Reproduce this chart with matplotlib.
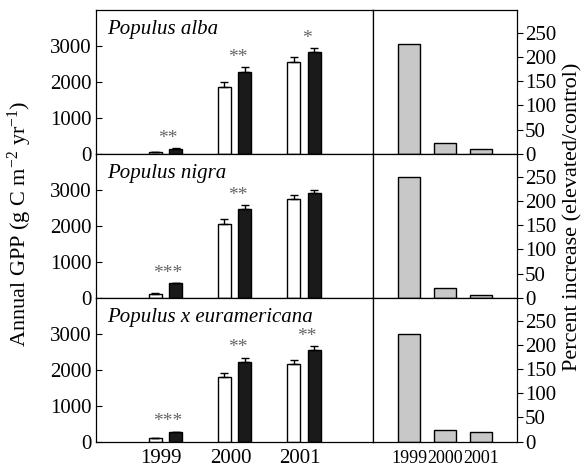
import numpy as np
import matplotlib
matplotlib.use("Agg")
import matplotlib.pyplot as plt

plt.rcParams['font.family'] = ['Liberation Serif', 'DejaVu Serif']
plt.rcParams['mathtext.fontset'] = 'custom'
plt.rcParams['mathtext.rm'] = 'Liberation Serif'
plt.rcParams['mathtext.it'] = 'Liberation Serif:italic'

species = ['Populus alba', 'Populus nigra', 'Populus x euramericana']
years = ['1999', '2000', '2001']

control_alba = [45, 1870, 2565]
elevated_alba = [140, 2290, 2825]
control_err_alba = [15, 120, 120]
elevated_err_alba = [20, 120, 110]
sig_alba = ['**', '**', '*']
pct_alba = [226, 23, 10]

control_nigra = [110, 2050, 2750]
elevated_nigra = [400, 2455, 2900]
control_err_nigra = [20, 130, 110]
elevated_err_nigra = [15, 120, 100]
sig_nigra = ['***', '**', '']
pct_nigra = [249, 20, 6]

control_eur = [90, 1790, 2160]
elevated_eur = [260, 2215, 2545]
control_err_eur = [20, 130, 100]
elevated_err_eur = [20, 120, 110]
sig_eur = ['***', '**', '**']
pct_eur = [223, 24, 19]

rows = [
    (control_alba, elevated_alba, control_err_alba, elevated_err_alba, sig_alba, pct_alba),
    (control_nigra, elevated_nigra, control_err_nigra, elevated_err_nigra, sig_nigra, pct_nigra),
    (control_eur, elevated_eur, control_err_eur, elevated_err_eur, sig_eur, pct_eur),
]

FS = 15
fig = plt.figure(figsize=(5.88, 4.67), dpi=100)
gs = fig.add_gridspec(3, 2, left=0.1633, right=0.8787, top=0.9786, bottom=0.0542,
                      width_ratios=[277.3, 143.4], hspace=0, wspace=0)

x = np.arange(len(years))
off = 0.147
bw = 0.19

for i, (ctl, elv, ce, ee, sig, pct) in enumerate(rows):
    axl = fig.add_subplot(gs[i, 0])
    axr = fig.add_subplot(gs[i, 1])

    axl.bar(x - off, ctl, width=bw, color='white', edgecolor='black', linewidth=1.0, zorder=2)
    axl.bar(x + off, elv, width=bw, color='#1a1a1a', edgecolor='black', linewidth=1.0, zorder=2)
    axl.errorbar(x - off, ctl, yerr=[np.zeros(len(ce)), ce], fmt='none', ecolor='black',
                 elinewidth=1.0, capsize=3, capthick=1.0, zorder=3)
    axl.errorbar(x + off, elv, yerr=[np.zeros(len(ee)), ee], fmt='none', ecolor='black',
                 elinewidth=1.0, capsize=3, capthick=1.0, zorder=3)
    for j, s in enumerate(sig):
        if s:
            axl.annotate(s, (x[j] + 0.04, elv[j] + ee[j]), xytext=(0, 7),
                         textcoords='offset points', ha='center', va='center',
                         fontsize=14, color='#666666')
    axl.set_xlim(-1, 3)
    axl.set_ylim(0, 4000)
    axl.set_yticks([0, 1000, 2000, 3000])
    axl.tick_params(axis='y', direction='in', length=4, width=0.8, labelsize=FS, pad=3)
    axl.tick_params(axis='x', length=0, labelsize=FS, pad=5)
    axl.set_xticks(x - 0.06)
    if i == 2:
        axl.set_xticklabels(years)
    else:
        axl.set_xticklabels([])
    axl.text(0.04, 0.93, species[i], transform=axl.transAxes, ha='left', va='top',
             fontsize=FS, style='italic')

    axr.bar(x, pct, width=0.61, color='#c8c8c8', edgecolor='black', linewidth=1.0, zorder=2)
    axr.set_xlim(-1, 3)
    axr.set_ylim(0, 297)
    axr.set_yticks([0, 50, 100, 150, 200, 250])
    axr.yaxis.tick_right()
    axr.tick_params(axis='y', direction='out', length=4, width=0.8, labelsize=FS, pad=2)
    axr.tick_params(axis='x', length=0, labelsize=13, pad=6)
    axr.set_xticks(x)
    if i == 2:
        axr.set_xticklabels(years)
    else:
        axr.set_xticklabels([])

    for ax in (axl, axr):
        for sp in ax.spines.values():
            sp.set_linewidth(0.9)

fig.text(0.034, 0.52, r'Annual GPP (g C m$^{-2}$ yr$^{-1}$)', rotation=90,
         ha='center', va='center', fontsize=16)
fig.text(0.975, 0.535, 'Percent increase (elevated/control)', rotation=90,
         ha='center', va='center', fontsize=16)

fig.savefig('out.png', dpi=100)
